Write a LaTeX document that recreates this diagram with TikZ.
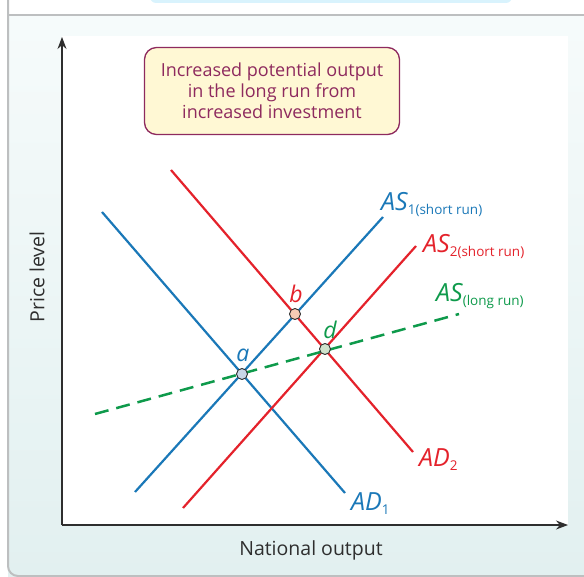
\documentclass[tikz,border=0pt]{standalone}
\usepackage{fontspec}
\setmainfont{Open Sans}
\usepackage{tikz}
\usetikzlibrary{arrows.meta}
\definecolor{adblue}{HTML}{1A78B8}
\definecolor{adred}{HTML}{E4222B}
\definecolor{lrgreen}{HTML}{0E9A4B}
\definecolor{plum}{HTML}{8E2A5E}
\definecolor{boxfill}{HTML}{FFF8D4}
\definecolor{rim}{HTML}{BDBFC0}
\definecolor{axisgrey}{HTML}{2E2E2E}
\newcommand{\curvelbl}[2]{{\itshape #1}\raisebox{-4pt}{\fontsize{13.5}{13.5}\selectfont #2}}

\begin{document}
\begin{tikzpicture}[x=1pt,y=-1pt,
  curve/.style={line width=2.2pt},
  eqpt/.style={circle,draw=axisgrey,line width=0.9pt,minimum size=11pt,inner sep=0pt},
  ptlbl/.style={font=\fontsize{23}{23}\selectfont\itshape,inner sep=0pt},
  crvlbl/.style={font=\fontsize{25}{25}\selectfont,anchor=base west,inner sep=0pt},
  axlbl/.style={font=\fontsize{19.5}{20}\selectfont,text=axisgrey,inner sep=0pt}]
  \useasboundingbox (0,0) rectangle (584,577);
  % panel
  \fill[cyan!15,rounded corners=6pt] (150,-12) rectangle (512,3);
  \shade[top color={rgb,255:red,246;green,251;blue,251},bottom color={rgb,255:red,226;green,240;blue,240}]
    (8,15) rectangle (584,577);
  \fill[white] (62,36) rectangle (568,525);
  \draw[rim,line width=2pt,rounded corners=10pt] (8,-2) -- (8,576) -- (586,576);
  \draw[rim,line width=2pt] (8,15) -- (586,15);
  % axes
  \coordinate (O) at (62,525);
  \coordinate (ytop) at (62,37);
  \coordinate (xend) at (568,525);
  \draw[axisgrey,line width=1.1pt,-{Stealth[length=12pt,width=9pt]}] (O) -- (ytop);
  \draw[axisgrey,line width=1.1pt,-{Stealth[length=12pt,width=9pt]}] (O) -- (xend);
  \node[axlbl,rotate=90] (ylab) at (37,277) {Price level};
  \node[axlbl] (xlab) at (311,550) {National output};
  % note
  \node[draw=plum,line width=1.3pt,fill=boxfill,rounded corners=12pt,
    minimum width=255pt,minimum height=87pt,align=center,text=plum,
    font=\fontsize{18}{21}\selectfont] (note) at (272,91)
    {Increased potential output\\in the long run from\\increased investment};
  % curves
  \coordinate (AD1s) at (102,212);  \coordinate (AD1e) at (345,493);
  \coordinate (AS1s) at (135,492);  \coordinate (AS1e) at (383,217);
  \coordinate (AD2s) at (171,170);  \coordinate (AD2e) at (413,452);
  \coordinate (AS2s) at (183,508);  \coordinate (AS2e) at (416,246);
  \coordinate (LRs) at (95,414);    \coordinate (LRe) at (459,314);
  \draw[curve,adblue] (AD1s) -- (AD1e);
  \draw[curve,adblue] (AS1s) -- (AS1e);
  \draw[curve,adred] (AD2s) -- (AD2e);
  \draw[curve,adred] (AS2s) -- (AS2e);
  \draw[curve,lrgreen,line width=2.5pt,dash pattern=on 14pt off 8pt] (LRs) -- (LRe);
  \node[crvlbl,text=adblue] (as1) at (381,211) {\curvelbl{AS}{1(short run)}};
  \node[crvlbl,text=adred] (as2) at (423,253) {\curvelbl{AS}{2(short run)}};
  \node[crvlbl,text=lrgreen] (aslr) at (436,302) {\curvelbl{AS}{(long run)}};
  \node[crvlbl,text=adred] (ad2) at (419,466) {\curvelbl{AD}{2}};
  \node[crvlbl,text=adblue] (ad1) at (351,510) {\curvelbl{AD}{1}};
  % equilibria
  \node[eqpt,fill={rgb,255:red,200;green,214;blue,232}] (a) at (242,374) {};
  \node[eqpt,fill={rgb,255:red,246;green,203;blue,181}] (b) at (295,314) {};
  \node[eqpt,fill={rgb,255:red,207;green,227;blue,204}] (d) at (325,349) {};
  \node[ptlbl,text=adblue] (alab) at (243,355) {a};
  \node[ptlbl,text=adred] (blab) at (296,294) {b};
  \node[ptlbl,text=lrgreen] (dlab) at (330,330) {d};
\end{tikzpicture}
\end{document}
